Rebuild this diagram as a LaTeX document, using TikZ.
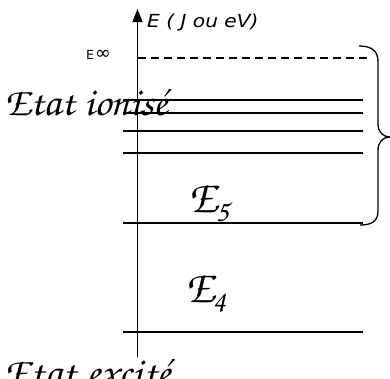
\documentclass[tikz,border=0pt]{standalone}
\usepackage{fontspec}
\setmainfont{DejaVu Sans}
\usetikzlibrary{arrows.meta}
\IfFontExistsTF{texgyrechorus-mediumitalic.otf}
  {\newfontfamily\scriptfnt{texgyrechorus-mediumitalic.otf}}
  {\newcommand{\scriptfnt}{\fontspec{Latin Modern Roman}\itshape}}
\begin{document}
\begin{tikzpicture}[x=1pt,y=-1pt,
  level/.style={line width=1.3pt},
  bigscript/.style={font=\scriptfnt\fontsize{40}{44}\selectfont, anchor=base west, inner sep=0pt},
  elabel/.style={font=\scriptfnt\fontsize{46}{50}\selectfont, anchor=base west, inner sep=0pt}]
\useasboundingbox (0,0) rectangle (390,378);
\clip (0,0) rectangle (390,378);
% texts
\node[bigscript] (ion) at (4,115) {\scalebox{1.05}[1]{Etat ionisé}};
\node[bigscript] (exc) at (4,385) {\scalebox{1.08}[1]{Etat excité}};
\node[elabel] (e5) at (188,212) {E\kern-1pt\raisebox{-9pt}{\fontsize{30}{30}\selectfont 5}};
\node[elabel] (e4) at (185,302) {E\kern-1pt\raisebox{-9pt}{\fontsize{30}{30}\selectfont 4}};
\node[anchor=base west, font=\itshape\fontsize{18}{20}\selectfont, inner sep=0pt] (lbl) at (147,27) {\scalebox{1.12}[1]{E ( J ou eV)}};
\node[anchor=base west, font=\fontsize{12.5}{15}\selectfont, inner sep=0pt] (einf) at (86,59.5) {E\hspace{1pt}{\fontsize{19}{19}\selectfont ∞}};
% axis
\coordinate (ab) at (137.5,357);
\coordinate (at) at (137.5,9);
\draw[line width=1.4pt,-{Triangle[width=10pt,length=13pt]}] (ab) -- (at);
% dashed E infinity
\coordinate (d1) at (138,58);
\coordinate (d2) at (369,58);
\draw[line width=1.2pt, dash pattern=on 8pt off 5pt] (d1) -- (d2);
% levels
\foreach \yy/\n in {100/a,113/b,131/c,153/d,223/e,332/f}{
  \coordinate (l\n1) at (123,\yy);
  \coordinate (l\n2) at (363,\yy);
  \draw[level] (l\n1) -- (l\n2);
}
% brace
\coordinate (b1) at (359,46);
\coordinate (bc) at (390,137);
\coordinate (b2) at (360,225);
\draw[line width=1.3pt] (b1) .. controls (372,46) and (378,51) .. (378,62)
  -- (378,124) .. controls (378,132) and (383,137) .. (bc)
  .. controls (383,137) and (378,142) .. (378,150)
  -- (378,211) .. controls (378,221) and (372,225) .. (b2);
\end{tikzpicture}
\end{document}
